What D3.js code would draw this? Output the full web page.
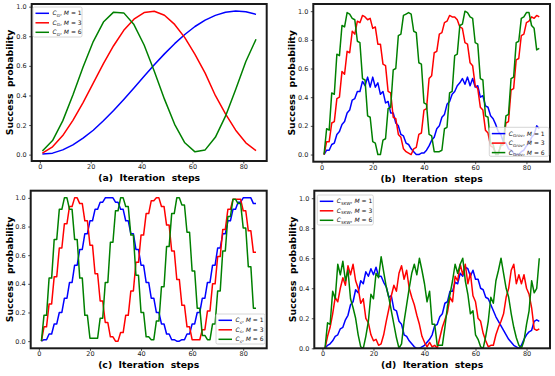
<!DOCTYPE html>
<html>
<head>
<meta charset="utf-8">
<script src="https://cdn.jsdelivr.net/npm/d3@7"></script>
<style>
  body { margin: 0; background: #fff; }
  svg { display: block; font-family: "DejaVu Sans", sans-serif; }
</style>
</head>
<body>
<div id="chart"></div>
<script>
// iteration steps (a is sampled every 4 steps, the others every step)
const stepsA = [1, 5, 9, 13, 17, 21, 25, 29, 33, 37, 41, 45, 49, 53, 57, 61, 65, 69, 73, 77, 81, 85]
const steps = d3.range(1, 86)
const mValues = [1, 3, 6]
const xTicks = [0, 20, 40, 60, 80]
const yTicks = [0, 0.2, 0.4, 0.6, 0.8, 1.0]

// (a) C_G
const aBlue = [0.005, 0.010, 0.032, 0.066, 0.111, 0.165, 0.229, 0.298, 0.373, 0.451, 0.529, 0.607, 0.681, 0.750, 0.812, 0.866, 0.909, 0.941, 0.962, 0.970, 0.965, 0.948]
const aRed = [0.010, 0.053, 0.129, 0.232, 0.352, 0.483, 0.615, 0.736, 0.840, 0.915, 0.960, 0.969, 0.942, 0.880, 0.791, 0.678, 0.551, 0.400, 0.275, 0.165, 0.080, 0.027]
const aGreen = [0.024, 0.095, 0.228, 0.403, 0.592, 0.764, 0.896, 0.963, 0.958, 0.879, 0.741, 0.564, 0.375, 0.205, 0.080, 0.019, 0.032, 0.117, 0.260, 0.440, 0.629, 0.780]

// (b) C_Grov
const bBlue = [
  0.00, 0.03, 0.03, 0.07, 0.08, 0.14, 0.16, 0.21, 0.23, 0.29,
  0.31, 0.38, 0.39, 0.44, 0.44, 0.51, 0.48, 0.54, 0.47, 0.54,
  0.47, 0.50, 0.42, 0.44, 0.36, 0.37, 0.29, 0.29, 0.22, 0.20,
  0.14, 0.13, 0.08, 0.07, 0.04, 0.02, 0.00, 0.00, 0.01, 0.01,
  0.03, 0.06, 0.10, 0.12, 0.18, 0.20, 0.26, 0.28, 0.35, 0.37,
  0.42, 0.44, 0.48, 0.50, 0.53, 0.49, 0.54, 0.48, 0.53, 0.47,
  0.48, 0.40, 0.41, 0.34, 0.33, 0.27, 0.25, 0.21, 0.16, 0.14,
  0.09, 0.08, 0.04, 0.03, 0.01, 0.00, 0.00, 0.02, 0.03, 0.06,
  0.08, 0.12, 0.14, 0.20, 0.18]
const bRed = [
  0.00, 0.09, 0.09, 0.22, 0.23, 0.39, 0.40, 0.58, 0.56, 0.72,
  0.71, 0.86, 0.84, 0.93, 0.92, 0.97, 0.96, 0.94, 0.95, 0.88,
  0.89, 0.77, 0.77, 0.63, 0.62, 0.44, 0.43, 0.26, 0.25, 0.14,
  0.12, 0.04, 0.02, 0.01, 0.00, 0.04, 0.05, 0.14, 0.15, 0.31,
  0.32, 0.53, 0.55, 0.71, 0.72, 0.84, 0.85, 0.92, 0.93, 0.97,
  0.96, 0.96, 0.94, 0.89, 0.88, 0.78, 0.77, 0.64, 0.62, 0.48,
  0.46, 0.33, 0.31, 0.17, 0.15, 0.06, 0.05, 0.01, 0.01, 0.06,
  0.07, 0.22, 0.23, 0.45, 0.46, 0.66, 0.67, 0.83, 0.84, 0.92,
  0.93, 0.96, 0.95, 0.97, 0.96]
const bGreen = [
  0.00, 0.18, 0.17, 0.43, 0.42, 0.70, 0.69, 0.90, 0.89, 0.99,
  0.98, 0.95, 0.94, 0.79, 0.78, 0.53, 0.52, 0.27, 0.26, 0.09,
  0.08, 0.00, 0.00, 0.10, 0.11, 0.32, 0.33, 0.59, 0.60, 0.83,
  0.84, 0.97, 0.98, 0.99, 0.98, 0.86, 0.85, 0.64, 0.63, 0.36,
  0.35, 0.14, 0.13, 0.02, 0.02, 0.02, 0.03, 0.18, 0.19, 0.43,
  0.44, 0.69, 0.70, 0.90, 0.91, 1.00, 0.99, 0.96, 0.95, 0.78,
  0.77, 0.53, 0.52, 0.27, 0.26, 0.08, 0.07, 0.00, 0.00, 0.07,
  0.08, 0.27, 0.28, 0.53, 0.54, 0.78, 0.79, 0.95, 0.96, 0.99,
  0.99, 0.90, 0.88, 0.73, 0.74]

// (c) C_s
const cBlue = [
  0.00, 0.01, 0.01, 0.05, 0.05, 0.12, 0.12, 0.20, 0.20, 0.30,
  0.30, 0.41, 0.41, 0.53, 0.53, 0.64, 0.64, 0.75, 0.75, 0.84,
  0.84, 0.92, 0.92, 0.97, 0.97, 1.00, 1.00, 1.00, 1.00, 0.97,
  0.97, 0.92, 0.92, 0.84, 0.84, 0.75, 0.75, 0.64, 0.64, 0.53,
  0.53, 0.41, 0.41, 0.30, 0.30, 0.20, 0.20, 0.12, 0.12, 0.05,
  0.05, 0.01, 0.01, 0.00, 0.00, 0.01, 0.01, 0.05, 0.05, 0.12,
  0.12, 0.20, 0.20, 0.30, 0.30, 0.41, 0.41, 0.53, 0.53, 0.65,
  0.65, 0.75, 0.75, 0.84, 0.84, 0.92, 0.92, 0.97, 0.97, 1.00,
  1.00, 1.00, 1.00, 0.96, 0.96]
const cRed = [
  0.00, 0.10, 0.10, 0.26, 0.26, 0.45, 0.45, 0.65, 0.65, 0.82,
  0.82, 0.94, 0.94, 1.00, 1.00, 0.96, 0.96, 0.84, 0.84, 0.67,
  0.67, 0.47, 0.47, 0.28, 0.28, 0.13, 0.13, 0.03, 0.03, 0.00,
  0.00, 0.06, 0.06, 0.18, 0.18, 0.35, 0.35, 0.55, 0.55, 0.74,
  0.74, 0.89, 0.89, 0.98, 0.98, 1.00, 1.00, 0.94, 0.94, 0.81,
  0.81, 0.63, 0.63, 0.43, 0.43, 0.25, 0.25, 0.10, 0.10, 0.01,
  0.01, 0.01, 0.01, 0.08, 0.08, 0.21, 0.21, 0.40, 0.40, 0.59,
  0.59, 0.78, 0.78, 0.92, 0.92, 0.99, 0.99, 0.99, 0.99, 0.91,
  0.91, 0.77, 0.77, 0.62, 0.62]
const cGreen = [
  0.00, 0.18, 0.18, 0.44, 0.44, 0.71, 0.71, 0.92, 0.92, 1.00,
  1.00, 0.92, 0.92, 0.71, 0.71, 0.44, 0.44, 0.18, 0.18, 0.02,
  0.02, 0.02, 0.02, 0.16, 0.16, 0.41, 0.41, 0.69, 0.69, 0.91,
  0.91, 1.00, 1.00, 0.94, 0.94, 0.74, 0.74, 0.46, 0.46, 0.20,
  0.20, 0.03, 0.03, 0.01, 0.01, 0.14, 0.14, 0.38, 0.38, 0.66,
  0.66, 0.89, 0.89, 1.00, 1.00, 0.95, 0.95, 0.76, 0.76, 0.49,
  0.49, 0.23, 0.23, 0.04, 0.04, 0.01, 0.01, 0.12, 0.12, 0.35,
  0.35, 0.63, 0.63, 0.87, 0.87, 0.99, 0.99, 0.96, 0.96, 0.79,
  0.79, 0.52, 0.52, 0.23, 0.23]

// (d) C_SKW
const dBlue = [
  0.00, 0.02, 0.03, 0.05, 0.08, 0.09, 0.13, 0.14, 0.19, 0.22,
  0.29, 0.31, 0.39, 0.37, 0.45, 0.43, 0.51, 0.48, 0.53, 0.49,
  0.54, 0.48, 0.48, 0.44, 0.41, 0.34, 0.35, 0.26, 0.25, 0.18,
  0.16, 0.09, 0.08, 0.05, 0.03, 0.01, 0.00, 0.00, 0.01, 0.02,
  0.04, 0.06, 0.09, 0.15, 0.16, 0.21, 0.23, 0.30, 0.31, 0.38,
  0.38, 0.44, 0.43, 0.50, 0.48, 0.54, 0.53, 0.48, 0.52, 0.46,
  0.46, 0.40, 0.39, 0.34, 0.33, 0.29, 0.25, 0.21, 0.18, 0.15,
  0.12, 0.09, 0.06, 0.04, 0.02, 0.01, 0.00, 0.02, 0.06, 0.09,
  0.11, 0.12, 0.18, 0.19, 0.18]
const dRed = [
  0.00, 0.08, 0.14, 0.23, 0.34, 0.31, 0.40, 0.47, 0.42, 0.55,
  0.49, 0.56, 0.45, 0.40, 0.30, 0.33, 0.20, 0.17, 0.09, 0.05,
  0.06, 0.02, 0.03, 0.09, 0.18, 0.26, 0.35, 0.42, 0.38, 0.50,
  0.55, 0.46, 0.52, 0.40, 0.34, 0.29, 0.22, 0.16, 0.08, 0.04,
  0.01, 0.04, 0.01, 0.02, 0.00, 0.07, 0.14, 0.19, 0.24, 0.34,
  0.31, 0.48, 0.45, 0.56, 0.49, 0.56, 0.43, 0.50, 0.35, 0.31,
  0.20, 0.18, 0.10, 0.05, 0.01, 0.02, 0.02, 0.09, 0.14, 0.18,
  0.23, 0.34, 0.40, 0.52, 0.56, 0.43, 0.49, 0.43, 0.49, 0.40,
  0.36, 0.27, 0.13, 0.12, 0.13]
const dGreen = [
  0.00, 0.17, 0.16, 0.38, 0.33, 0.56, 0.49, 0.58, 0.45, 0.52,
  0.33, 0.27, 0.20, 0.09, 0.01, 0.00, 0.08, 0.18, 0.36, 0.33,
  0.50, 0.47, 0.61, 0.51, 0.41, 0.34, 0.25, 0.16, 0.07, 0.00,
  0.03, 0.18, 0.29, 0.40, 0.50, 0.56, 0.49, 0.60, 0.52, 0.43,
  0.31, 0.38, 0.16, 0.16, 0.02, 0.02, 0.02, 0.14, 0.28, 0.36,
  0.45, 0.56, 0.50, 0.56, 0.60, 0.45, 0.36, 0.23, 0.25, 0.09,
  0.06, 0.01, 0.00, 0.08, 0.18, 0.34, 0.30, 0.45, 0.52, 0.60,
  0.50, 0.40, 0.34, 0.23, 0.14, 0.07, 0.02, 0.00, 0.05, 0.16,
  0.25, 0.45, 0.37, 0.40, 0.60]

const W = 555, H = 376
const COLORS = ['#0000ff', '#ff0000', '#008000'] // M = 1, 3, 6

// box = [left, top, right, bottom] of the axes frame, legend = [x, y, w, h]
const panels = [
  {tag: '(a)', sub: 'G', x: stepsA, ys: [aBlue, aRed, aGreen], box: [31.7, 4, 266.7, 161], yDom: [-0.043, 1.018], ylabX: 10, legend: [33, 7, 49, 30]},
  {tag: '(b)', sub: 'Grov', x: steps, ys: [bBlue, bRed, bGreen], box: [313.3, 4, 550, 161.7], yDom: [-0.05, 1.05], ylabX: 292, legend: [489.3, 127.3, 59.5, 29]},
  {tag: '(c)', sub: 's', x: steps, ys: [cBlue, cRed, cGreen], box: [30.7, 190.7, 266.7, 348.3], yDom: [-0.05, 1.05], ylabX: 10, legend: [216, 314, 49, 30]},
  {tag: '(d)', sub: 'SKW', x: steps, ys: [dBlue, dRed, dGreen], box: [314.3, 190.7, 550, 348.3], yDom: [0, 1.05], ylabX: 292.5, legend: [317.3, 195, 56, 30]}
]

const svg = d3.select('#chart').append('svg')
  .attr('width', W)
  .attr('height', H)

panels.forEach((p, pi) => {
  const [L, T, R, B] = p.box
  const x = d3.scaleLinear().domain([-3.2, 89.2]).range([L, R])
  const y = d3.scaleLinear().domain(p.yDom).range([B, T])
  const g = svg.append('g')

  // lines are clipped to the axes area, like matplotlib does
  const clipId = 'clip' + pi
  g.append('clipPath').attr('id', clipId)
    .append('rect').attr('x', L).attr('y', T).attr('width', R - L).attr('height', B - T)

  const line = d3.line()
    .x(d => x(d[0]))
    .y(d => y(d[1]))

  p.ys.forEach((vals, si) => {
    g.append('path')
      .datum(vals.map((v, i) => [p.x[i], v]))
      .attr('clip-path', `url(#${clipId})`)
      .attr('fill', 'none')
      .attr('stroke', COLORS[si])
      .attr('stroke-width', 1.5)
      .attr('stroke-linejoin', 'round')
      .attr('d', line)
  })

  // axes
  const xAxis = g.append('g')
    .attr('transform', `translate(0, ${B})`)
    .call(d3.axisBottom(x).tickValues(xTicks).tickSize(2.5).tickPadding(1))
  const yAxis = g.append('g')
    .attr('transform', `translate(${L}, 0)`)
    .call(d3.axisLeft(y).tickValues(yTicks).tickFormat(d3.format('.1f')).tickSize(2.5).tickPadding(2.5))
  ;[xAxis, yAxis].forEach(ax => {
    ax.select('.domain').remove()
    ax.selectAll('line').attr('stroke', '#222').attr('stroke-width', 0.8)
    ax.selectAll('text').attr('fill', '#222').attr('font-size', 6.5)
      .attr('font-family', '"DejaVu Sans", sans-serif')
  })

  // heavy frame
  g.append('rect')
    .attr('x', L).attr('y', T).attr('width', R - L).attr('height', B - T)
    .attr('fill', 'none')
    .attr('stroke', '#1a1a1a')
    .attr('stroke-width', 2)

  // axis titles
  g.append('text')
    .attr('x', (L + R) / 2)
    .attr('y', B + 20)
    .attr('text-anchor', 'middle')
    .attr('font-size', 9.3)
    .attr('font-weight', 'bold')
    .style('white-space', 'pre')
    .text(p.tag + '  Iteration  steps')

  g.append('text')
    .attr('transform', `translate(${p.ylabX}, ${(T + B) / 2}) rotate(-90)`)
    .attr('dy', '0.35em')
    .attr('text-anchor', 'middle')
    .attr('font-size', 9.3)
    .attr('font-weight', 'bold')
    .style('white-space', 'pre')
    .text('Success  probability')

  // legend
  const [lx, ly, lw, lh] = p.legend
  const lg = g.append('g')
  lg.append('rect')
    .attr('x', lx).attr('y', ly).attr('width', lw).attr('height', lh)
    .attr('rx', 1.5)
    .attr('fill', '#fff').attr('fill-opacity', 0.8)
    .attr('stroke', '#cccccc').attr('stroke-width', 0.8)

  mValues.forEach((m, i) => {
    const ey = ly + 6.3 + i * 9.5
    lg.append('line')
      .attr('x1', lx + 2.5).attr('x2', lx + 16)
      .attr('y1', ey).attr('y2', ey)
      .attr('stroke', COLORS[i]).attr('stroke-width', 1.5)
    const t = lg.append('text')
      .attr('x', lx + 19.5).attr('y', ey + 2.1)
      .attr('font-size', 6)
      .attr('fill', '#111')
    t.append('tspan').attr('font-style', 'italic').text('C')
    t.append('tspan').attr('font-style', 'italic').attr('font-size', 4.2).attr('dy', 1.3).text(p.sub)
    t.append('tspan').attr('dy', -1.3).text(', ')
    t.append('tspan').attr('font-style', 'italic').text('M')
    t.append('tspan').text(' = ' + m)
  })
})
</script>
</body>
</html>
